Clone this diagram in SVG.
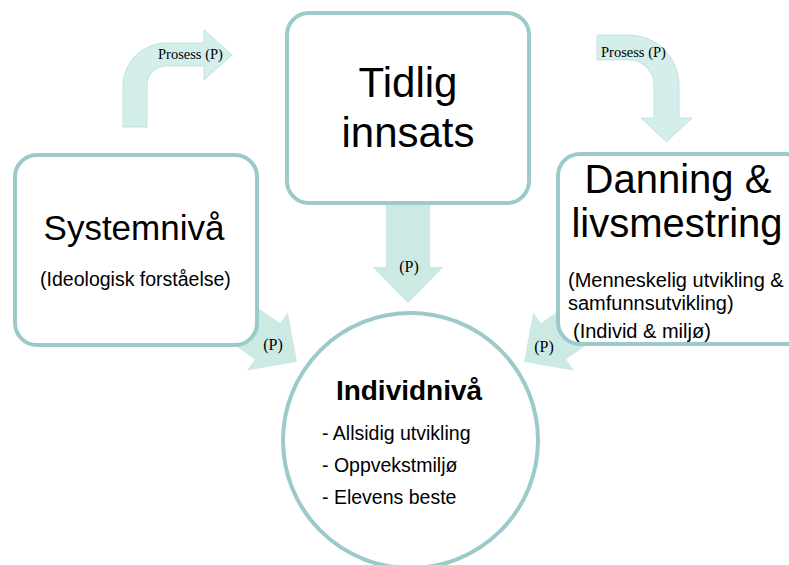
<svg xmlns="http://www.w3.org/2000/svg" xmlns:xlink="http://www.w3.org/1999/xlink" width="789" height="565" viewBox="0 0 789 565">
<style>
.node{fill:#ffffff;stroke:#9ccacb;stroke-width:4}
.arr{fill:#cde9e4;stroke:none}
.carr{fill:#d4eeeb;stroke:#c2e3df;stroke-width:1}
.lbl{font-family:"Liberation Serif","Times New Roman",serif;fill:#000}
.sans{font-family:"Liberation Sans",Arial,sans-serif;fill:#000}
</style>
<defs>
<polygon id="sa" points="-100,-22 -36,-22 -36,-35.5 0,0 -36,35.5 -36,22 -100,22"/>
</defs>
<rect width="789" height="565" fill="#ffffff"/>
<g id="connectors">
<path class="carr" d="M123,127 L123,86 A43,43 0 0 1 166,43 L204,43 L204,30 L232,55 L204,80 L204,66 L166,66 A19,19 0 0 0 147,86 L147,127 Z"/>
<text class="lbl" x="158" y="59" font-size="14.5">Prosess (P)</text>
<path class="carr" d="M597,35 L629,35 A50,50 0 0 1 679,85 L679,118 L692,118 L666.5,142 L641,118 L654,118 L654,85 A25,25 0 0 0 629,60 L597,60 Z"/>
<text class="lbl" x="601" y="57" font-size="14.5">Prosess (P)</text>
<use href="#sa" xlink:href="#sa" class="arr" transform="translate(408,303) rotate(90)"/>
<use href="#sa" xlink:href="#sa" class="arr" transform="translate(297,362) rotate(35)"/>
<use href="#sa" xlink:href="#sa" class="arr" transform="translate(524,362) rotate(145)"/>
</g>
<g id="node-tidlig">
<rect class="node" x="287" y="13" width="242" height="190" rx="22"/>
<text class="sans" x="408" y="97" font-size="42" text-anchor="middle">Tidlig</text>
<text class="sans" x="408" y="147" font-size="42" text-anchor="middle">innsats</text>
</g>
<g id="node-system">
<rect class="node" x="15" y="155" width="242" height="190" rx="22"/>
<text class="sans" x="134" y="240" font-size="35" text-anchor="middle">Systemnivå</text>
<text class="sans" x="135.5" y="286" font-size="19.5" text-anchor="middle">(Ideologisk forståelse)</text>
</g>
<g id="node-danning">
<rect class="node" x="558" y="154" width="250" height="190" rx="22"/>
<text class="sans" x="678" y="193" font-size="40" text-anchor="middle">Danning &amp;</text>
<text class="sans" x="677" y="237" font-size="40" text-anchor="middle">livsmestring</text>
<text class="sans" x="568" y="287" font-size="20">(Menneskelig utvikling &amp;</text>
<text class="sans" x="568" y="310" font-size="20">samfunnsutvikling)</text>
<text class="sans" x="573" y="338" font-size="20">(Individ &amp; miljø)</text>
</g>
<g id="labels">
<text class="lbl" x="409" y="272" font-size="16" text-anchor="middle">(P)</text>
<text class="lbl" x="273" y="350" font-size="16" text-anchor="middle">(P)</text>
<text class="lbl" x="544" y="352" font-size="16" text-anchor="middle">(P)</text>
</g>
<g id="node-individ">
<circle class="node" cx="410.5" cy="440.5" r="127.5"/>
<text class="sans" x="409" y="400" font-size="28" font-weight="bold" text-anchor="middle">Individnivå</text>
<text class="sans" x="322" y="440" font-size="19.5">- Allsidig utvikling</text>
<text class="sans" x="322" y="472" font-size="19.5">- Oppvekstmiljø</text>
<text class="sans" x="322" y="504" font-size="19.5">- Elevens beste</text>
</g>
</svg>
